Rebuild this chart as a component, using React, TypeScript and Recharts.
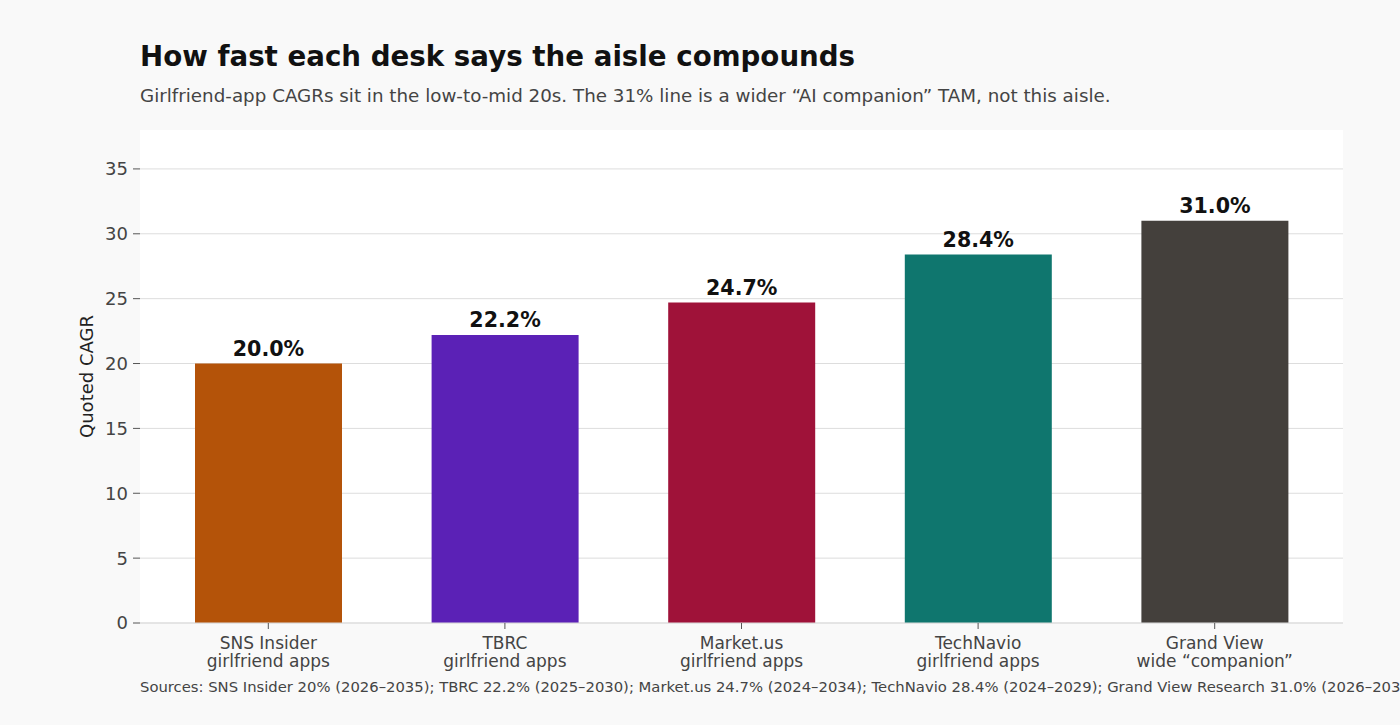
import React from 'react';
import { BarChart, Bar, XAxis, YAxis, CartesianGrid, Cell, LabelList } from 'recharts';

const categories = ['SNS Insider|girlfriend apps', 'TBRC|girlfriend apps', 'Market.us|girlfriend apps', 'TechNavio|girlfriend apps', 'Grand View|wide \u201ccompanion\u201d'];
const cagrValues = [20.0, 22.2, 24.7, 28.4, 31.0];
const barColors = ['#b45309', '#5b21b6', '#9f1239', '#0f766e', '#44403c'];
const yTicks = [0, 5, 10, 15, 20, 25, 30, 35];

const data = categories.map((name, i) => ({ name, value: cagrValues[i] }));

const font = '"DejaVu Sans", sans-serif';

function CategoryTick(props: any) {
  const { x, y, payload } = props;
  const lines = String(payload.value).split('|');
  return (
    <g transform={`translate(${x},${y})`}>
      {lines.map((line: string, i: number) => (
        <text key={i} x={0} y={18 + i * 18} textAnchor="middle" fontSize={17} fill="#444" fontFamily={font}>
          {line}
        </text>
      ))}
    </g>
  );
}

export default function App() {
  return (
    <div style={{ position: 'fixed', left: 0, top: 0, width: 1400, height: 725, background: '#f9f9f9', fontFamily: font, overflow: 'hidden' }}>
      <div style={{ position: 'absolute', left: 140, top: 40, fontSize: 27.7, fontWeight: 'bold', color: '#111', whiteSpace: 'nowrap' }}>
        How fast each desk says the aisle compounds
      </div>
      <div style={{ position: 'absolute', left: 140, top: 85, fontSize: 18.3, color: '#444', whiteSpace: 'nowrap' }}>
        Girlfriend-app CAGRs sit in the low-to-mid 20s. The 31% line is a wider “AI companion” TAM, not this aisle.
      </div>
      <div style={{ position: 'absolute', left: 140, top: 130, width: 1203, height: 493, background: '#ffffff' }} />
      <div style={{ position: 'absolute', left: 0, top: 0 }}>
        <BarChart width={1400} height={725} data={data} margin={{ top: 130, right: 57, bottom: 72, left: 80 }}>
          <CartesianGrid vertical={false} stroke="#dddddd" horizontalValues={yTicks} />
          <XAxis
            dataKey="name"
            height={30}
            tick={<CategoryTick />}
            tickLine={{ stroke: '#555' }}
            tickSize={6}
            axisLine={{ stroke: '#dddddd' }}
            padding={{ left: 10, right: 10 }}
            interval={0}
          />
          <YAxis
            width={60}
            domain={[0, 38]}
            ticks={yTicks}
            axisLine={false}
            tickLine={{ stroke: '#555' }}
            tickSize={7}
            tickMargin={5}
            tick={{ fontSize: 18, fill: '#444', fontFamily: font }}
            label={{ value: 'Quoted CAGR', angle: -90, position: 'insideLeft', offset: 7, style: { fontSize: 18, fill: '#222', fontFamily: font, textAnchor: 'middle' } }}
          />
          <Bar dataKey="value" barSize={147} isAnimationActive={false}>
            {data.map((d, i) => (
              <Cell key={d.name} fill={barColors[i]} />
            ))}
            <LabelList
              dataKey="value"
              position="top"
              offset={8}
              formatter={(v: any) => `${Number(v).toFixed(1)}%`}
              style={{ fontSize: 20.6, fontWeight: 'bold', fill: '#111', fontFamily: font }}
            />
          </Bar>
        </BarChart>
      </div>
      <div style={{ position: 'absolute', left: 140, top: 678, fontSize: 14.8, color: '#444', whiteSpace: 'nowrap' }}>
        Sources: SNS Insider 20% (2026–2035); TBRC 22.2% (2025–2030); Market.us 24.7% (2024–2034); TechNavio 28.4% (2024–2029); Grand View Research 31.0% (2026–2033)
      </div>
    </div>
  );
}
